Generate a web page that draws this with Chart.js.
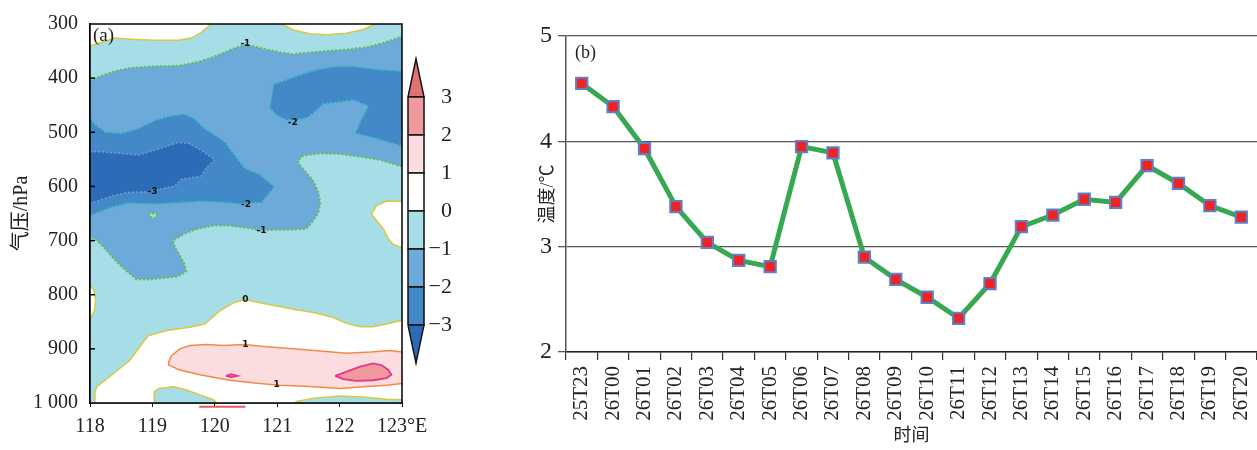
<!DOCTYPE html>
<html>
<head>
<meta charset="utf-8">
<script src="https://cdn.jsdelivr.net/npm/chart.js@4.4.1/dist/chart.umd.min.js"></script>
<style>
  html, body { margin: 0; padding: 0; background: #fff; }
  body { width: 1257px; height: 450px; position: relative; overflow: hidden; }
  canvas { position: absolute; top: 0; }
  #mapA { left: 0; }
  #bar { left: 400px; }
  #lineB { left: 500px; }
</style>
</head>
<body>
<canvas id="mapA" width="440" height="450"></canvas>
<canvas id="bar" width="52" height="450"></canvas>
<canvas id="lineB" width="757" height="450"></canvas>
<script>
// ---- (a) 剖面：区域多边形，[经度, 气压 hPa] ----
const fullArea = [[118, 300], [123, 300], [123, 1000], [118, 1000]];
const whiteTopLeft = [[118, 300], [118, 340], [118.18, 334], [118.4, 326], [118.66, 328], [119.04, 330], [119.41, 330], [119.62, 326], [119.78, 316], [119.94, 300]];
const whiteTopRight = [[121.07, 300], [121.26, 311], [121.53, 318], [121.79, 320], [122.11, 317], [122.38, 310], [122.57, 300]];
const whiteRight = [[123, 628], [122.75, 627], [122.59, 636], [122.51, 651], [122.59, 663], [122.7, 678], [122.78, 696], [122.86, 707], [123, 713]];
const whiteLeft = [[118, 781], [118.07, 794], [118.09, 812], [118.07, 830], [118, 845]];
const whiteBottom = [[118.07, 1000], [118.08, 979], [118.11, 970], [118.32, 951], [118.64, 921], [118.83, 891], [118.93, 876], [119.23, 866], [119.6, 860], [119.84, 854], [119.9, 848], [120.08, 830], [120.3, 815], [120.48, 809], [120.72, 815], [120.99, 821], [121.26, 827], [121.58, 833], [121.9, 842], [122.11, 853], [122.33, 859], [122.54, 859], [122.75, 854], [123, 847], [123, 1000]];
const cyanBottom1 = [[119.03, 1000], [119.03, 979], [119.1, 973], [119.34, 970], [119.55, 976], [119.76, 985], [119.98, 994], [120.03, 1000]];
const cyanBottom2 = [[121.28, 1000], [121.31, 997], [121.58, 991], [122.01, 987], [122.38, 989], [122.75, 993], [123, 994], [123, 1000]];
const blueM1 = [[118, 405], [118.18, 396], [118.4, 387], [118.66, 381], [119.04, 378], [119.41, 377], [119.73, 370], [120, 360], [120.26, 347], [120.48, 338], [120.62, 341], [120.83, 347], [121.04, 352], [121.26, 356], [121.47, 353], [121.79, 350], [122.11, 347], [122.43, 343], [122.7, 335], [123, 323],
  [123, 563], [122.65, 551], [122.33, 545], [122.01, 540], [121.69, 539], [121.42, 543], [121.34, 551], [121.34, 557], [121.47, 575], [121.58, 590], [121.66, 611], [121.69, 630], [121.66, 648], [121.58, 663], [121.47, 678], [121.21, 680], [120.94, 680], [120.72, 682], [120.61, 678], [120.21, 672], [120, 672], [119.73, 678], [119.52, 687], [119.33, 700], [119.36, 712], [119.44, 727], [119.52, 745], [119.54, 757], [119.41, 766], [119.2, 769], [118.93, 772], [118.74, 771], [118.56, 754], [118.4, 736], [118.24, 715], [118.1, 698], [118, 692]];
const cyanHole = [[118.93, 650], [119.1, 650], [119.01, 660], [118.93, 650]];
const blueM2Left = [[118, 472], [118.07, 484], [118.24, 499], [118.5, 502], [118.77, 493], [119.04, 478], [119.3, 469], [119.52, 466], [119.68, 475], [119.84, 493], [120, 505], [120.16, 517], [120.32, 542], [120.48, 566], [120.72, 578], [120.96, 601], [120.75, 630], [120.4, 633], [120.21, 630], [119.78, 628], [119.46, 630], [119.04, 633], [118.61, 631], [118.34, 639], [118.13, 648], [118, 654]];
const blueM2Right = [[120.94, 411], [121.1, 405], [121.31, 396], [121.63, 384], [121.95, 378], [122.22, 378], [122.54, 383], [123, 387], [123, 526], [122.65, 514], [122.25, 502], [122.35, 475], [122.46, 452], [122.22, 441], [121.74, 448], [121.63, 460], [121.5, 472], [121.31, 478], [121.15, 478], [120.99, 469], [120.88, 454], [120.91, 435], [120.94, 411]];
const blueM3 = [[118, 536], [118.18, 536], [118.5, 539], [118.77, 542], [119.04, 533], [119.41, 519], [119.57, 520], [119.78, 533], [120, 551], [119.86, 566], [119.78, 581], [119.46, 587], [119.36, 599], [119.04, 607], [118.93, 610], [118.61, 611], [118.34, 618], [118.13, 627], [118, 630]];
const pinkP1 = [[119.26, 924], [119.31, 912], [119.44, 900], [119.6, 894], [119.87, 892], [120.14, 894], [120.46, 892], [120.83, 896], [121.26, 900], [121.69, 904], [122.11, 908], [122.49, 906], [122.81, 903], [123, 906], [123, 964], [122.75, 967], [122.38, 970], [122.01, 973], [121.58, 970], [121.26, 968], [121.04, 967], [120.72, 964], [120.24, 958], [119.76, 948], [119.44, 939], [119.26, 930], [119.26, 924]];
const pinkP2 = [[121.93, 950], [122.11, 942], [122.33, 933], [122.54, 927], [122.67, 930], [122.78, 939], [122.83, 948], [122.75, 954], [122.54, 958], [122.27, 959], [122.06, 956], [121.93, 950]];
const pinkDot = [[120.18, 950], [120.26, 947], [120.36, 950], [120.26, 952], [120.18, 950]];
const redMark = [[119.75, 1007], [120.49, 1007]];

// 等值线标注
const contourLabels = [
  { lon: 120.49, p: 337, text: '-1' }, { lon: 121.25, p: 483, text: '-2' },
  { lon: 119.0, p: 610, text: '-3' }, { lon: 120.5, p: 634, text: '-2' },
  { lon: 120.75, p: 681, text: '-1' }, { lon: 120.49, p: 810, text: '0' },
  { lon: 120.49, p: 893, text: '1' }, { lon: 120.99, p: 967, text: '1' }
];

// 色标
const barLevels = [-3, -2, -1, 0, 1, 2, 3];
const barColors = ['#2c6bb5', '#4389c8', '#6daad9', '#a6dde6', '#ffffff', '#fbdcdf', '#f19a9d', '#e07274'];

// ---- (b) 温度序列 ----
const timeLabels = ['25T23', '26T00', '26T01', '26T02', '26T03', '26T04', '26T05', '26T06', '26T07', '26T08', '26T09', '26T10', '26T11', '26T12', '26T13', '26T14', '26T15', '26T16', '26T17', '26T18', '26T19', '26T20'];
const temps = [4.55, 4.33, 3.93, 3.38, 3.04, 2.87, 2.81, 3.95, 3.89, 2.90, 2.69, 2.52, 2.32, 2.65, 3.19, 3.30, 3.45, 3.42, 3.77, 3.60, 3.39, 3.28];

const SERIF = "'Liberation Serif', 'Noto Sans CJK SC', serif";
const TXT = '#222';

// 等值线样式
const c0 = { color: '#d9c940', dash: [], width: 1.5 };
const cm1 = { color: '#5fbf50', dash: [2, 2], width: 2 };
const cm2 = { color: '#40bcc8', dash: [2, 2], width: 2 };
const cm3 = { color: '#7a96d6', dash: [2, 2], width: 1.5 };
const cp1 = { color: '#f08a4a', dash: [], width: 1.5 };
const cp2 = { color: '#e8358a', dash: [], width: 1.8 };

const pts = poly => poly.map(([x, y]) => ({ x, y }));
// 图框上的边不画等值线
const onFrame = (a, b) => (a[0] === b[0] && (a[0] === 118 || a[0] === 123)) || (a[1] === b[1] && (a[1] === 300 || a[1] === 1000));

function region(poly, fillColor, line) {
  const sets = [{ data: pts(poly), fill: 'shape', backgroundColor: fillColor, borderColor: 'rgba(0,0,0,0)', borderWidth: 0, pointRadius: 0 }];
  if (line) {
    sets.push({
      data: pts(poly), fill: false, borderColor: line.color, borderWidth: line.width, borderDash: line.dash, pointRadius: 0,
      segment: { borderColor: c => onFrame(poly[c.p0DataIndex], poly[c.p1DataIndex]) ? 'rgba(0,0,0,0)' : line.color }
    });
  }
  return sets;
}

// 从下往上叠
const layers = [
  ...region(fullArea, '#a6dde6'),
  ...region(whiteTopLeft, '#ffffff', c0),
  ...region(whiteTopRight, '#ffffff', c0),
  ...region(whiteRight, '#ffffff', c0),
  ...region(whiteLeft, '#ffffff', c0),
  ...region(whiteBottom, '#ffffff', c0),
  ...region(cyanBottom1, '#a6dde6', c0),
  ...region(cyanBottom2, '#a6dde6', c0),
  ...region(blueM1, '#6daad9', cm1),
  ...region(cyanHole, '#a6dde6', cm1),
  ...region(blueM2Left, '#4389c8', cm2),
  ...region(blueM2Right, '#4389c8', cm2),
  ...region(blueM3, '#2c6bb5', cm3),
  ...region(pinkP1, '#fbdcdf', cp1),
  ...region(pinkP2, '#f19a9d', cp2),
  ...region(pinkDot, '#f19a9d', cp2),
  { data: pts(redMark), fill: false, borderColor: '#e85a60', borderWidth: 2, pointRadius: 0, clip: false }
];

const mapDecor = {
  id: 'mapDecor',
  afterDatasetsDraw(chart) {
    const { ctx, chartArea: a, scales: { x, y } } = chart;
    ctx.save();
    ctx.font = 'bold 9px "DejaVu Sans"';
    ctx.fillStyle = '#111';
    ctx.textAlign = 'center';
    ctx.textBaseline = 'middle';
    contourLabels.forEach(l => ctx.fillText(l.text, x.getPixelForValue(l.lon), y.getPixelForValue(l.p)));
    ctx.strokeStyle = '#000';
    ctx.lineWidth = 1.5;
    ctx.strokeRect(a.left, a.top, a.right - a.left, a.bottom - a.top);
    y.ticks.forEach(t => {
      if (t.value > 300 && t.value < 1000) {
        const py = y.getPixelForValue(t.value);
        ctx.beginPath();
        ctx.moveTo(a.left, py);
        ctx.lineTo(a.left + 5, py);
        ctx.stroke();
      }
    });
    ctx.font = '19px ' + SERIF;
    ctx.fillStyle = TXT;
    ctx.textAlign = 'left';
    ctx.textBaseline = 'top';
    ctx.fillText('(a)', a.left + 3, a.top + 3);
    ctx.restore();
  }
};

new Chart(document.getElementById('mapA'), {
  type: 'line',
  data: { datasets: layers.slice().reverse() },
  plugins: [mapDecor],
  options: {
    responsive: false,
    animation: false,
    events: [],
    layout: { autoPadding: false, padding: { top: 19, right: 38, bottom: 0, left: 0 } },
    plugins: { legend: { display: false }, tooltip: { enabled: false } },
    scales: {
      x: {
        type: 'linear', min: 118, max: 123,
        afterFit: s => { s.height = 47; },
        ticks: { stepSize: 1, padding: 8, maxRotation: 0, color: TXT, font: { family: SERIF, size: 20 }, callback: v => v === 123 ? '123°E' : String(v) },
        grid: { drawOnChartArea: false, tickLength: 4, color: '#000' },
        border: { color: '#000', width: 1.5 }
      },
      y: {
        type: 'linear', reverse: true, min: 300, max: 1000,
        afterFit: s => { s.width = 90; },
        ticks: { stepSize: 100, padding: 12, color: TXT, font: { family: SERIF, size: 20 }, callback: v => v === 1000 ? '1 000' : String(v) },
        grid: { drawOnChartArea: false, drawTicks: false },
        border: { color: '#000', width: 1.5 },
        title: { display: true, text: '气压/hPa', color: TXT, font: { family: SERIF, size: 20 }, padding: { top: 10, bottom: 0 } }
      }
    }
  }
});

// 色标条
const barSets = [];
for (let i = 0; i <= barLevels.length; i++) {
  let poly;
  if (i === 0) {
    const lo = barLevels[0];
    poly = [[0, lo], [1, lo], [0.5, lo - 1], [0, lo]];
  } else if (i === barLevels.length) {
    const hi = barLevels[barLevels.length - 1];
    poly = [[0, hi], [1, hi], [0.5, hi + 1], [0, hi]];
  } else {
    const lo = barLevels[i - 1], hi = barLevels[i];
    poly = [[0, lo], [1, lo], [1, hi], [0, hi], [0, lo]];
  }
  barSets.push({ data: pts(poly), fill: 'shape', backgroundColor: barColors[i], borderColor: '#111', borderWidth: 1.5, pointRadius: 0, clip: false });
}

new Chart(document.getElementById('bar'), {
  type: 'line',
  data: { datasets: barSets },
  options: {
    responsive: false,
    animation: false,
    events: [],
    layout: { autoPadding: false, padding: { top: 57, bottom: 85, left: 8, right: 0 } },
    plugins: { legend: { display: false }, tooltip: { enabled: false } },
    scales: {
      x: { type: 'linear', min: 0, max: 1, display: false },
      y: {
        type: 'linear', position: 'right', min: -4.05, max: 4.05,
        afterFit: s => { s.width = 28; },
        afterBuildTicks: s => { s.ticks = barLevels.map(v => ({ value: v })); },
        ticks: { padding: 2, crossAlign: 'far', color: TXT, font: { family: SERIF, size: 22 }, callback: v => v < 0 ? '\u2212' + Math.abs(v) : String(v) },
        grid: { display: false, drawTicks: false },
        border: { display: false }
      }
    }
  }
});

const panelTag = {
  id: 'panelTag',
  afterDraw(chart) {
    const { ctx, chartArea: a } = chart;
    ctx.save();
    ctx.font = '18px ' + SERIF;
    ctx.fillStyle = TXT;
    ctx.textBaseline = 'top';
    ctx.fillText('(b)', a.left + 9, a.top + 8);
    ctx.restore();
  }
};

new Chart(document.getElementById('lineB'), {
  type: 'line',
  data: {
    labels: timeLabels,
    datasets: [{
      data: temps,
      borderColor: '#36a852',
      borderWidth: 5,
      fill: false,
      pointStyle: 'rect',
      pointRadius: 8,
      pointBackgroundColor: '#ee2424',
      pointBorderColor: '#5b82c6',
      pointBorderWidth: 2
    }]
  },
  plugins: [panelTag],
  options: {
    responsive: false,
    animation: false,
    events: [],
    layout: { autoPadding: false, padding: { top: 36, right: 0, bottom: 0, left: 0 } },
    plugins: { legend: { display: false }, tooltip: { enabled: false } },
    scales: {
      x: {
        offset: true,
        afterFit: s => { s.height = 98; s.paddingLeft = 0; s.paddingRight = 0; },
        ticks: { minRotation: 90, maxRotation: 90, autoSkip: false, padding: 6, color: TXT, font: { family: SERIF, size: 21 } },
        grid: { offset: true, drawOnChartArea: false, tickLength: 8, color: '#333', lineWidth: 1.2 },
        border: { color: '#222', width: 1.5 },
        title: { display: true, text: '时间', color: TXT, font: { family: SERIF, size: 18 }, padding: { top: 0, bottom: 3 } }
      },
      y: {
        min: 2, max: 5,
        afterFit: s => { s.width = 66; },
        ticks: { stepSize: 1, padding: 6, color: TXT, font: { family: SERIF, size: 24 } },
        grid: { color: '#555', lineWidth: 1.3, tickLength: 8 },
        border: { color: '#555', width: 1.5 },
        title: { display: true, text: '温度/℃', color: TXT, font: { family: SERIF, size: 18 }, padding: { top: 37, bottom: 0 } }
      }
    }
  }
});
</script>
</body>
</html>
